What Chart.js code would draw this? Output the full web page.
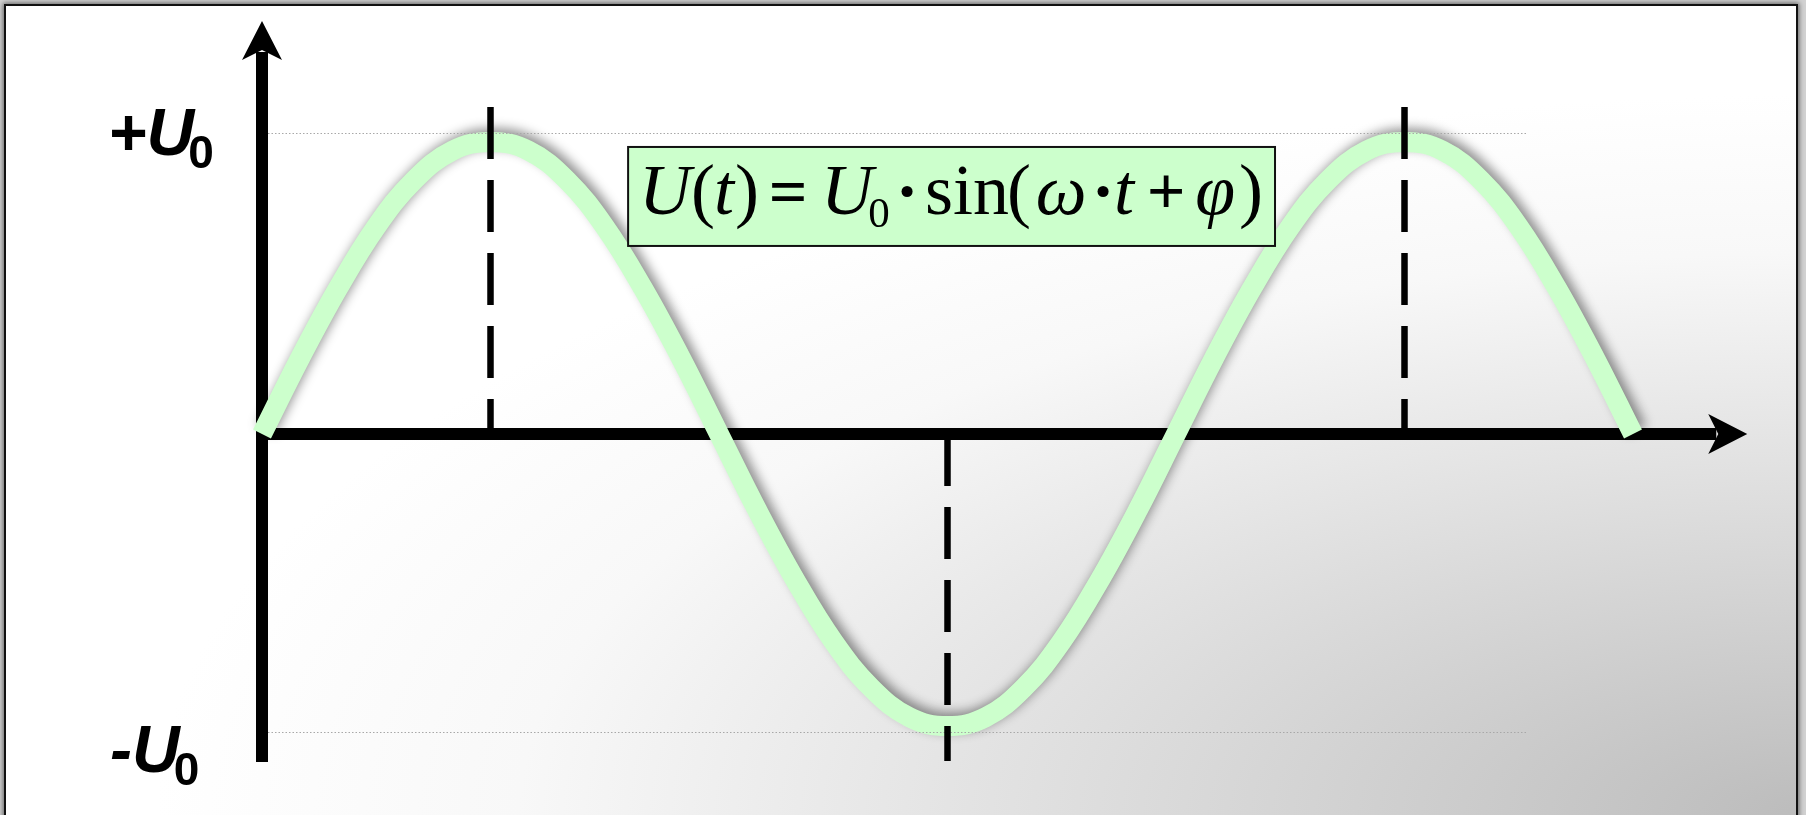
<!DOCTYPE html>
<html>
<head>
<meta charset="utf-8">
<script src="https://cdn.jsdelivr.net/npm/chart.js@4.4.1/dist/chart.umd.min.js"></script>
<style>
html,body{margin:0;padding:0;width:1806px;height:815px;overflow:hidden;background:#d2d2d2;}
#frame{position:absolute;left:4px;top:4px;width:1794px;height:900px;box-sizing:border-box;border:2px solid #111;
  box-shadow:0 0 5px 1px rgba(0,0,0,0.55);
  background:radial-gradient(ellipse 1650px 720px at 1800px 809px,#bcbcbc 0%,#f8f8f8 78%,#ffffff 100%);}
canvas{position:absolute;left:0;top:0;}
</style>
</head>
<body>
<div id="frame"></div>
<canvas id="c" width="1806" height="815"></canvas>
<script>
// ---- data (phase in degrees, voltage in units of U0) ----
const phaseDeg = [0,15,30,45,60,75,90,105,120,135,150,165,180,195,210,225,240,255,270,285,300,315,330,345,360,375,390,405,420,435,450,465,480,495,510,525,540];
const voltage  = [0,0.26,0.5,0.71,0.87,0.97,1,0.97,0.87,0.71,0.5,0.26,0,-0.26,-0.5,-0.71,-0.87,-0.97,-1,-0.97,-0.87,-0.71,-0.5,-0.26,0,0.26,0.5,0.71,0.87,0.97,1,0.97,0.87,0.71,0.5,0.26,0];
const extremaPhase = [90, 270, 450];     // dashed markers at peaks / trough
const extremaSign  = [1, -1, 1];
const levelValues  = [1.031, -1.021];    // dotted ±U0 reference lines
const levelLabels  = ['+U', '-U'];
const levelSub     = '0';
const levelLineEnd = 498;                // phase where the dotted lines stop
const xAxisEnd     = 585;                // arrow tip of time axis (phase)
const yAxisTop     = 1.414;              // arrow tip of voltage axis
const yAxisBottom  = -1.123;
const markerReach  = 1.12;
const formulaParts = [
  ['U','i',37],['(','',75],['t','i',96],[')','',119],['=','b',160],['U','i',219],['0','s',251],
  ['\u00B7','b',279],['sin','',339],['(','',391],['\u03C9','i',433],['\u00B7','b',475],['t','i',496],
  ['+','b',538],['\u03C6','i',587],[')','',623]
];
const formulaBox = {x0:144.2, x1:399, y0:0.983, y1:0.644};

const AXIS_W = 12, ARROW_L = 39, ARROW_HW = 20, NOTCH = 10;

const decor = {
  id:'decor',
  beforeDatasetsDraw(chart){
    const {ctx, scales:{x,y}} = chart;
    const x0 = x.getPixelForValue(0), y0 = y.getPixelForValue(0);
    ctx.save();
    ctx.fillStyle='#000'; ctx.strokeStyle='#000'; ctx.lineWidth=AXIS_W; ctx.lineCap='butt';
    const yt = y.getPixelForValue(yAxisTop), yb = y.getPixelForValue(yAxisBottom);
    ctx.beginPath(); ctx.moveTo(x0, yb); ctx.lineTo(x0, yt+ARROW_L-NOTCH+2); ctx.stroke();
    ctx.beginPath(); ctx.moveTo(x0, yt); ctx.lineTo(x0+ARROW_HW, yt+ARROW_L); ctx.lineTo(x0, yt+ARROW_L-NOTCH);
    ctx.lineTo(x0-ARROW_HW, yt+ARROW_L); ctx.closePath(); ctx.fill();
    const xe = x.getPixelForValue(xAxisEnd);
    ctx.beginPath(); ctx.moveTo(x0-AXIS_W/2, y0); ctx.lineTo(xe-ARROW_L+NOTCH-2, y0); ctx.stroke();
    ctx.beginPath(); ctx.moveTo(xe, y0); ctx.lineTo(xe-ARROW_L, y0-ARROW_HW); ctx.lineTo(xe-ARROW_L+NOTCH, y0);
    ctx.lineTo(xe-ARROW_L, y0+ARROW_HW); ctx.closePath(); ctx.fill();
    ctx.restore();
  },
  beforeDatasetDraw(chart){
    const ctx = chart.ctx;
    ctx.save();
    ctx.shadowColor='rgba(0,0,0,0.42)'; ctx.shadowBlur=11; ctx.shadowOffsetX=4; ctx.shadowOffsetY=-4;
  },
  afterDatasetDraw(chart){ chart.ctx.restore(); },
  afterDatasetsDraw(chart){
    const {ctx, scales:{x,y}} = chart;
    const x0 = x.getPixelForValue(0), y0 = y.getPixelForValue(0);
    ctx.save();
    // dotted reference lines
    ctx.strokeStyle='#a8a8a8'; ctx.lineWidth=1; ctx.setLineDash([1.5,2]);
    levelValues.forEach(v=>{
      const py = Math.round(y.getPixelForValue(v))+0.5;
      ctx.beginPath(); ctx.moveTo(x0+AXIS_W/2, py); ctx.lineTo(x.getPixelForValue(levelLineEnd), py); ctx.stroke();
    });
    // dashed markers
    ctx.strokeStyle='#000'; ctx.lineWidth=6.5; ctx.setLineDash([52,21]);
    extremaPhase.forEach((p,i)=>{
      const px = x.getPixelForValue(p);
      const pe = y.getPixelForValue(extremaSign[i]*markerReach);
      ctx.beginPath();
      if (extremaSign[i] > 0){ ctx.moveTo(px, pe); ctx.lineTo(px, y0); }
      else { ctx.moveTo(px, y0); ctx.lineTo(px, pe); }
      ctx.stroke();
    });
    ctx.setLineDash([]);
    // level labels
    ctx.fillStyle='#000'; ctx.textBaseline='alphabetic'; ctx.textAlign='left';
    const lblPos = [{x:108, dy:13}, {x:110, dy:46}];
    levelLabels.forEach((t,i)=>{
      const base = y.getPixelForValue(i===0?1:-1) + lblPos[i].dy;
      ctx.font='italic bold 66px "Liberation Sans", Arial, sans-serif';
      ctx.fillText(t, lblPos[i].x, base);
      const w = ctx.measureText(t).width;
      ctx.font='bold 46px "Liberation Sans", Arial, sans-serif';
      ctx.fillText(levelSub, lblPos[i].x + w - 6, base + 13);
    });
    // formula box
    const bx0 = x.getPixelForValue(formulaBox.x0), bx1 = x.getPixelForValue(formulaBox.x1);
    const by0 = y.getPixelForValue(formulaBox.y0), by1 = y.getPixelForValue(formulaBox.y1);
    ctx.fillStyle='#ccffcc'; ctx.fillRect(bx0, by0, bx1-bx0, by1-by0);
    ctx.strokeStyle='#111'; ctx.lineWidth=2; ctx.strokeRect(bx0, by0, bx1-bx0, by1-by0);
    ctx.fillStyle='#000'; ctx.textAlign='center';
    const fam = '"Liberation Serif", "Times New Roman", serif';
    formulaParts.forEach(([t,s,cx])=>{
      let base = by0 + 67;
      if (s==='i') ctx.font = 'italic 72px '+fam;
      else if (s==='b') ctx.font = 'bold 68px '+fam;
      else if (s==='s') { ctx.font = '43px '+fam; base = by0 + 80; }
      else ctx.font = '72px '+fam;
      ctx.fillText(t, bx0 + cx, base);
    });
    ctx.restore();
  }
};

new Chart(document.getElementById('c'), {
  type:'line',
  data:{ datasets:[{
    data: phaseDeg.map((p,i)=>({x:p, y:voltage[i]})),
    borderColor:'#ccffcc', borderWidth:20, borderCapStyle:'butt', borderJoinStyle:'round',
    pointRadius:0, tension:0.4, fill:false, clip:false
  }]},
  options:{
    responsive:false, animation:false, events:[],
    layout:{padding:{left:262, right:173, top:142, bottom:89}},
    plugins:{legend:{display:false}, tooltip:{enabled:false}},
    scales:{
      x:{type:'linear', min:0, max:540, display:false},
      y:{type:'linear', min:-1, max:1, display:false}
    }
  },
  plugins:[decor]
});
</script>
</body>
</html>
